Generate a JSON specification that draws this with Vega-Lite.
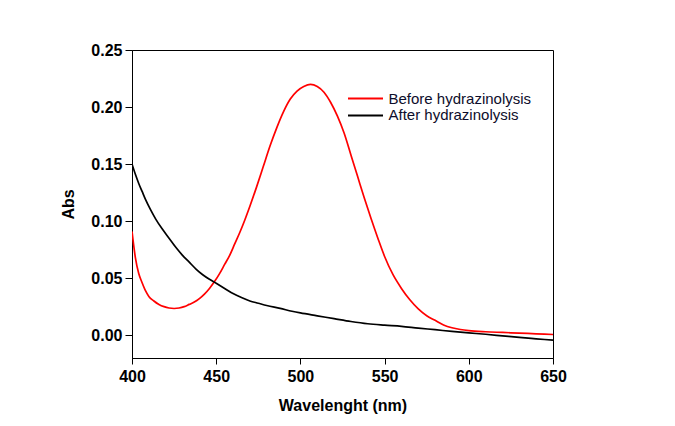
{
  "$schema": "https://vega.github.io/schema/vega-lite/v6.json",
  "width": 421,
  "height": 308,
  "autosize": {"type": "none"},
  "padding": {"left": 132, "top": 50, "right": 122, "bottom": 68},
  "background": "white",
  "config": {
    "font": "Liberation Sans",
    "view": {"stroke": "black", "strokeWidth": 1},
    "axis": {"grid": false, "domainColor": "black", "tickColor": "black", "labelColor": "black", "titleColor": "black", "domainWidth": 1, "tickWidth": 1}
  },
  "datasets": {
    "spec": [
      {"wl": 400, "abs": 0.091, "series": "Before hydrazinolysis"},
      {"wl": 402, "abs": 0.068, "series": "Before hydrazinolysis"},
      {"wl": 404, "abs": 0.054, "series": "Before hydrazinolysis"},
      {"wl": 406, "abs": 0.046, "series": "Before hydrazinolysis"},
      {"wl": 408, "abs": 0.039, "series": "Before hydrazinolysis"},
      {"wl": 410, "abs": 0.034, "series": "Before hydrazinolysis"},
      {"wl": 413, "abs": 0.030, "series": "Before hydrazinolysis"},
      {"wl": 416, "abs": 0.027, "series": "Before hydrazinolysis"},
      {"wl": 419, "abs": 0.025, "series": "Before hydrazinolysis"},
      {"wl": 422, "abs": 0.0238, "series": "Before hydrazinolysis"},
      {"wl": 425, "abs": 0.0234, "series": "Before hydrazinolysis"},
      {"wl": 428, "abs": 0.0238, "series": "Before hydrazinolysis"},
      {"wl": 431, "abs": 0.025, "series": "Before hydrazinolysis"},
      {"wl": 434, "abs": 0.027, "series": "Before hydrazinolysis"},
      {"wl": 437, "abs": 0.029, "series": "Before hydrazinolysis"},
      {"wl": 440, "abs": 0.032, "series": "Before hydrazinolysis"},
      {"wl": 443, "abs": 0.036, "series": "Before hydrazinolysis"},
      {"wl": 446, "abs": 0.041, "series": "Before hydrazinolysis"},
      {"wl": 449, "abs": 0.047, "series": "Before hydrazinolysis"},
      {"wl": 452, "abs": 0.054, "series": "Before hydrazinolysis"},
      {"wl": 455, "abs": 0.062, "series": "Before hydrazinolysis"},
      {"wl": 458, "abs": 0.070, "series": "Before hydrazinolysis"},
      {"wl": 461, "abs": 0.080, "series": "Before hydrazinolysis"},
      {"wl": 464, "abs": 0.090, "series": "Before hydrazinolysis"},
      {"wl": 467, "abs": 0.101, "series": "Before hydrazinolysis"},
      {"wl": 470, "abs": 0.113, "series": "Before hydrazinolysis"},
      {"wl": 474, "abs": 0.130, "series": "Before hydrazinolysis"},
      {"wl": 478, "abs": 0.148, "series": "Before hydrazinolysis"},
      {"wl": 482, "abs": 0.166, "series": "Before hydrazinolysis"},
      {"wl": 486, "abs": 0.182, "series": "Before hydrazinolysis"},
      {"wl": 490, "abs": 0.196, "series": "Before hydrazinolysis"},
      {"wl": 494, "abs": 0.207, "series": "Before hydrazinolysis"},
      {"wl": 498, "abs": 0.214, "series": "Before hydrazinolysis"},
      {"wl": 502, "abs": 0.218, "series": "Before hydrazinolysis"},
      {"wl": 506, "abs": 0.2198, "series": "Before hydrazinolysis"},
      {"wl": 510, "abs": 0.218, "series": "Before hydrazinolysis"},
      {"wl": 514, "abs": 0.213, "series": "Before hydrazinolysis"},
      {"wl": 518, "abs": 0.204, "series": "Before hydrazinolysis"},
      {"wl": 522, "abs": 0.192, "series": "Before hydrazinolysis"},
      {"wl": 526, "abs": 0.177, "series": "Before hydrazinolysis"},
      {"wl": 530, "abs": 0.158, "series": "Before hydrazinolysis"},
      {"wl": 534, "abs": 0.139, "series": "Before hydrazinolysis"},
      {"wl": 538, "abs": 0.120, "series": "Before hydrazinolysis"},
      {"wl": 542, "abs": 0.102, "series": "Before hydrazinolysis"},
      {"wl": 546, "abs": 0.085, "series": "Before hydrazinolysis"},
      {"wl": 550, "abs": 0.069, "series": "Before hydrazinolysis"},
      {"wl": 555, "abs": 0.053, "series": "Before hydrazinolysis"},
      {"wl": 560, "abs": 0.041, "series": "Before hydrazinolysis"},
      {"wl": 565, "abs": 0.031, "series": "Before hydrazinolysis"},
      {"wl": 570, "abs": 0.023, "series": "Before hydrazinolysis"},
      {"wl": 575, "abs": 0.017, "series": "Before hydrazinolysis"},
      {"wl": 580, "abs": 0.013, "series": "Before hydrazinolysis"},
      {"wl": 585, "abs": 0.009, "series": "Before hydrazinolysis"},
      {"wl": 590, "abs": 0.0065, "series": "Before hydrazinolysis"},
      {"wl": 595, "abs": 0.005, "series": "Before hydrazinolysis"},
      {"wl": 600, "abs": 0.004, "series": "Before hydrazinolysis"},
      {"wl": 610, "abs": 0.003, "series": "Before hydrazinolysis"},
      {"wl": 620, "abs": 0.0024, "series": "Before hydrazinolysis"},
      {"wl": 630, "abs": 0.0018, "series": "Before hydrazinolysis"},
      {"wl": 640, "abs": 0.0012, "series": "Before hydrazinolysis"},
      {"wl": 650, "abs": 0.0006, "series": "Before hydrazinolysis"},
      {"wl": 400, "abs": 0.150, "series": "After hydrazinolysis"},
      {"wl": 402, "abs": 0.141, "series": "After hydrazinolysis"},
      {"wl": 404, "abs": 0.133, "series": "After hydrazinolysis"},
      {"wl": 406, "abs": 0.126, "series": "After hydrazinolysis"},
      {"wl": 408, "abs": 0.119, "series": "After hydrazinolysis"},
      {"wl": 411, "abs": 0.110, "series": "After hydrazinolysis"},
      {"wl": 414, "abs": 0.102, "series": "After hydrazinolysis"},
      {"wl": 418, "abs": 0.093, "series": "After hydrazinolysis"},
      {"wl": 422, "abs": 0.085, "series": "After hydrazinolysis"},
      {"wl": 426, "abs": 0.077, "series": "After hydrazinolysis"},
      {"wl": 430, "abs": 0.070, "series": "After hydrazinolysis"},
      {"wl": 434, "abs": 0.064, "series": "After hydrazinolysis"},
      {"wl": 438, "abs": 0.058, "series": "After hydrazinolysis"},
      {"wl": 442, "abs": 0.053, "series": "After hydrazinolysis"},
      {"wl": 446, "abs": 0.049, "series": "After hydrazinolysis"},
      {"wl": 450, "abs": 0.0455, "series": "After hydrazinolysis"},
      {"wl": 455, "abs": 0.041, "series": "After hydrazinolysis"},
      {"wl": 460, "abs": 0.0365, "series": "After hydrazinolysis"},
      {"wl": 465, "abs": 0.033, "series": "After hydrazinolysis"},
      {"wl": 470, "abs": 0.030, "series": "After hydrazinolysis"},
      {"wl": 475, "abs": 0.028, "series": "After hydrazinolysis"},
      {"wl": 480, "abs": 0.026, "series": "After hydrazinolysis"},
      {"wl": 488, "abs": 0.0235, "series": "After hydrazinolysis"},
      {"wl": 495, "abs": 0.021, "series": "After hydrazinolysis"},
      {"wl": 500, "abs": 0.0195, "series": "After hydrazinolysis"},
      {"wl": 510, "abs": 0.017, "series": "After hydrazinolysis"},
      {"wl": 520, "abs": 0.0145, "series": "After hydrazinolysis"},
      {"wl": 530, "abs": 0.012, "series": "After hydrazinolysis"},
      {"wl": 540, "abs": 0.010, "series": "After hydrazinolysis"},
      {"wl": 550, "abs": 0.0088, "series": "After hydrazinolysis"},
      {"wl": 560, "abs": 0.0078, "series": "After hydrazinolysis"},
      {"wl": 570, "abs": 0.0062, "series": "After hydrazinolysis"},
      {"wl": 580, "abs": 0.0048, "series": "After hydrazinolysis"},
      {"wl": 590, "abs": 0.0033, "series": "After hydrazinolysis"},
      {"wl": 600, "abs": 0.002, "series": "After hydrazinolysis"},
      {"wl": 610, "abs": 0.0008, "series": "After hydrazinolysis"},
      {"wl": 620, "abs": -0.0006, "series": "After hydrazinolysis"},
      {"wl": 630, "abs": -0.002, "series": "After hydrazinolysis"},
      {"wl": 640, "abs": -0.0032, "series": "After hydrazinolysis"},
      {"wl": 650, "abs": -0.0044, "series": "After hydrazinolysis"}
    ]
  },
  "data": {"name": "spec"},
  "mark": {"type": "line", "strokeWidth": 1.7, "interpolate": "monotone", "clip": true},
  "encoding": {
    "x": {
      "field": "wl", "type": "quantitative",
      "scale": {"domain": [400, 650], "nice": false, "zero": false},
      "axis": {"title": "Wavelenght (nm)", "values": [400, 450, 500, 550, 600, 650], "tickSize": 6, "labelPadding": 4, "labelFont": "Liberation Sans", "labelFontSize": 16, "labelFontWeight": "bold", "titleFontSize": 16, "titleFontWeight": "bold", "titlePadding": 13, "labelFlush": false}
    },
    "y": {
      "field": "abs", "type": "quantitative",
      "scale": {"domain": [-0.02, 0.25], "nice": false, "zero": false},
      "axis": {"title": "Abs", "values": [0, 0.05, 0.1, 0.15, 0.2, 0.25], "format": ".2f", "tickSize": 7, "labelPadding": 3, "labelFontSize": 16, "labelFontWeight": "bold", "titleFontSize": 16, "titleFontWeight": "bold", "titlePadding": 14, "labelFlush": false}
    },
    "color": {
      "field": "series", "type": "nominal",
      "scale": {"domain": ["Before hydrazinolysis", "After hydrazinolysis"], "range": ["#ff0000", "#000000"]},
      "legend": {
        "title": null, "orient": "none", "legendX": 226, "legendY": 41,
        "symbolType": "M-5,0H5", "symbolSize": 49, "symbolStrokeWidth": 2,
        "labelFontSize": 15, "labelColor": "#0d0d2b", "labelOffset": 15.5,
        "rowPadding": 0.9, "padding": 0
      }
    }
  }
}
